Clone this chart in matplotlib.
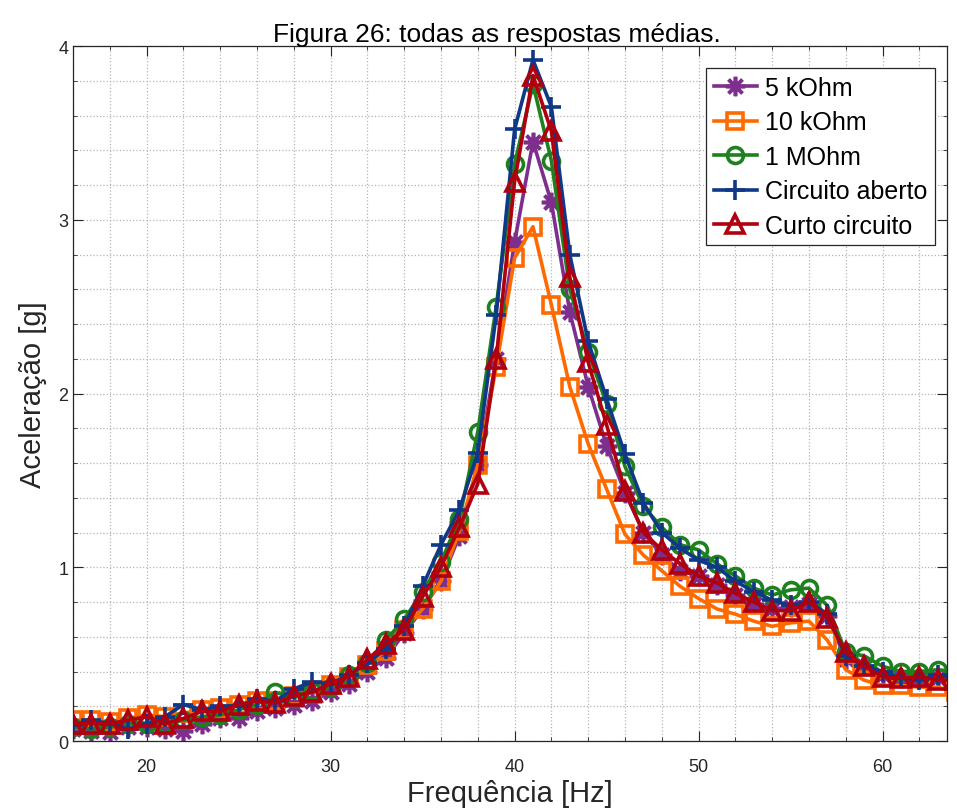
import numpy as np
import matplotlib
matplotlib.use("Agg")
import matplotlib.pyplot as plt
from matplotlib.ticker import MultipleLocator

freq = np.arange(16, 65)

r5k = [0.07, 0.06, 0.05, 0.08, 0.08, 0.07, 0.06, 0.10, 0.13, 0.13,
       0.17, 0.19, 0.21, 0.23, 0.28, 0.33, 0.40, 0.48, 0.62, 0.76,
       0.92, 1.18, 1.59, 2.20, 2.87, 3.45, 3.10, 2.47, 2.04, 1.70,
       1.43, 1.20, 1.07, 0.98, 0.95, 0.90, 0.84, 0.79, 0.76, 0.77,
       0.79, 0.72, 0.47, 0.43, 0.38, 0.36, 0.36, 0.36, 0.36]
r10k = [0.12, 0.12, 0.11, 0.13, 0.15, 0.14, 0.16, 0.18, 0.19, 0.21,
        0.23, 0.23, 0.26, 0.28, 0.32, 0.37, 0.44, 0.52, 0.64, 0.76,
        0.92, 1.21, 1.59, 2.15, 2.78, 2.96, 2.51, 2.04, 1.71, 1.45,
        1.19, 1.07, 0.98, 0.89, 0.82, 0.76, 0.73, 0.69, 0.66, 0.68,
        0.69, 0.58, 0.41, 0.35, 0.32, 0.32, 0.31, 0.31, 0.28]
r1M = [0.08, 0.07, 0.08, 0.10, 0.10, 0.10, 0.12, 0.14, 0.15, 0.18,
       0.21, 0.28, 0.25, 0.29, 0.31, 0.38, 0.45, 0.58, 0.70, 0.86,
       1.03, 1.28, 1.78, 2.50, 3.32, 3.78, 3.34, 2.60, 2.24, 1.94,
       1.58, 1.35, 1.23, 1.13, 1.10, 1.02, 0.95, 0.88, 0.84, 0.87,
       0.88, 0.78, 0.51, 0.49, 0.43, 0.40, 0.40, 0.41, 0.40]
aberto = [0.09, 0.12, 0.10, 0.07, 0.10, 0.14, 0.21, 0.18, 0.20, 0.20,
          0.24, 0.23, 0.30, 0.34, 0.33, 0.38, 0.45, 0.53, 0.66, 0.89,
          1.13, 1.33, 1.66, 2.45, 3.52, 3.92, 3.65, 2.80, 2.30, 1.97,
          1.65, 1.37, 1.20, 1.11, 1.04, 1.00, 0.92, 0.86, 0.81, 0.78,
          0.80, 0.73, 0.49, 0.43, 0.40, 0.36, 0.35, 0.38, 0.36]
curto = [0.10, 0.10, 0.10, 0.12, 0.14, 0.10, 0.13, 0.17, 0.17, 0.21,
         0.23, 0.22, 0.26, 0.28, 0.33, 0.37, 0.47, 0.56, 0.64, 0.83,
         1.00, 1.23, 1.48, 2.20, 3.22, 3.83, 3.51, 2.67, 2.18, 1.82,
         1.44, 1.20, 1.10, 1.02, 0.95, 0.91, 0.85, 0.80, 0.75, 0.75,
         0.80, 0.71, 0.51, 0.43, 0.37, 0.36, 0.37, 0.35, 0.35]

series = [
    ("5 kOhm", r5k, "#7E2F8E", (8, 2, 0)),
    ("10 kOhm", r10k, "#FF6A00", "s"),
    ("1 MOhm", r1M, "#1F801F", "o"),
    ("Circuito aberto", aberto, "#0F3887", "+"),
    ("Curto circuito", curto, "#B0000F", "^"),
]

plt.rcParams["font.family"] = ["Liberation Sans", "DejaVu Sans"]

fig = plt.figure(figsize=(9.57, 8.12), dpi=100)
ax = fig.add_axes([0.0763, 0.0862, 0.9132, 0.8559])

for label, vals, color, marker in series:
    ms = 11.5 if marker in ("s", "o") else 14
    if marker == "^":
        ms = 12.5
    ax.plot(freq, vals, color=color, lw=2.6, marker=marker, ms=ms,
            mew=2.6, mfc="none", mec=color, label=label, clip_on=True)

ax.set_xlim(16, 63.5)
ax.set_ylim(0, 4)
ax.xaxis.set_major_locator(MultipleLocator(10))
ax.xaxis.set_minor_locator(MultipleLocator(2))
ax.yaxis.set_major_locator(MultipleLocator(1))
ax.yaxis.set_minor_locator(MultipleLocator(0.2))
ax.grid(which="both", linestyle=":", color="#b5b5b5", lw=0.9)
ax.set_axisbelow(True)
ax.tick_params(which="both", direction="in", top=True, right=True,
               colors="#262626", labelsize=13)
ax.tick_params(which="major", length=7)
ax.tick_params(which="minor", length=3)
ax.tick_params(axis="x", pad=12)
for sp in ax.spines.values():
    sp.set_color("#262626")
    sp.set_linewidth(0.9)

ax.set_xlabel("Frequência [Hz]", fontsize=21, color="#262626", labelpad=3)
ax.set_ylabel("Aceleração [g]", fontsize=21, color="#262626", labelpad=8)
ax.set_title("Figura 26: todas as respostas médias.", fontsize=19, pad=3,
             x=0.485)

leg = ax.legend(loc="upper right", bbox_to_anchor=(0.986, 0.968), fontsize=18,
                fancybox=False, framealpha=1, edgecolor="#262626",
                handlelength=1.75, labelspacing=0.42, borderpad=0.3,
                handletextpad=0.3, borderaxespad=0.0)
leg.get_frame().set_linewidth(0.9)

fig.savefig("out.png", dpi=100)
